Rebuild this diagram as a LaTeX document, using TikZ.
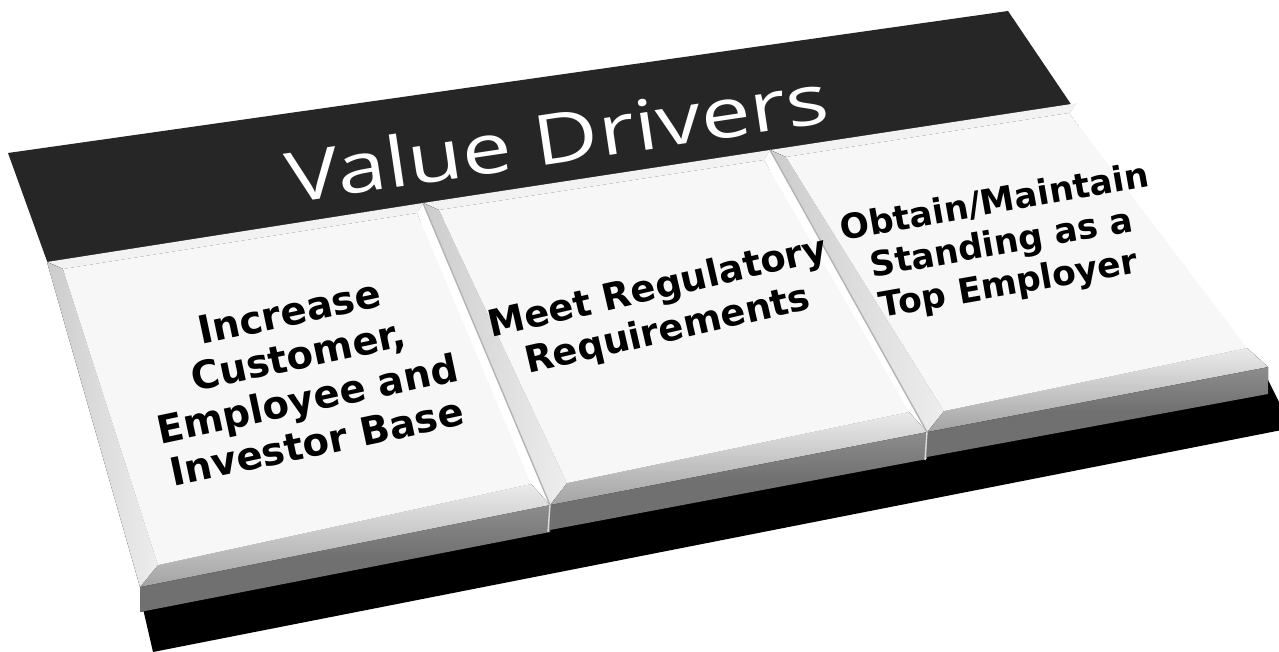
\documentclass[tikz,border=0pt]{standalone}
\usepackage{fontspec}
\usetikzlibrary{calc}
\newfontfamily\titlefont{Open Sans}
\newfontfamily\tilefont{DejaVu Sans}
\definecolor{bandgray}{HTML}{262626}
\definecolor{facegray}{HTML}{F7F7F7}
\definecolor{frontgray}{HTML}{707070}
\definecolor{creasegray}{HTML}{B4B4B4}

\tikzset{
  band/.style={fill=bandgray},
  base/.style={fill=black},
  topface/.style={fill=facegray},
  frontface/.style={top color=frontgray!80!white, bottom color=frontgray, middle color=frontgray},
  topbevel/.style={fill=white!95!black},
  rightbevel/.style={fill=white},
  bottombevel/.style={top color=white!92!black, bottom color=white!64!black},
  leftbevel/.style={left color=white!80!black, right color=white!93!black},
  titletext/.style={font=\titlefont\fontsize{22}{26}\selectfont, text=white},
  tiletext/.style 2 args={font=\tilefont\bfseries\fontsize{#1}{#2}\selectfont, align=center, text=black},
}

% one tile from its named corners: o = outer edge, i = inner face
\newcommand{\drawtile}[1]{%
  \fill[frontface] (#1-obl) -- (#1-obr) -- ($(#1-obr)+(0,27)$) -- ($(#1-obl)+(0,25)$) -- cycle;
  \fill[topbevel] (#1-otl) -- (#1-otr) -- (#1-itr) -- (#1-itl) -- cycle;
  \fill[rightbevel] (#1-otr) -- (#1-obr) -- (#1-ibr) -- (#1-itr) -- cycle;
  \fill[bottombevel] (#1-obr) -- (#1-obl) -- (#1-ibl) -- (#1-ibr) -- cycle;
  \fill[leftbevel] (#1-obl) -- (#1-otl) -- (#1-itl) -- (#1-ibl) -- cycle;
  \fill[topface] (#1-itl) -- (#1-itr) -- (#1-ibr) -- (#1-ibl) -- cycle;
}

\begin{document}
\begin{tikzpicture}[x=0.01cm, y=-0.01cm]
\useasboundingbox (0,0) rectangle (1279,652);
\clip (0,0) rectangle (1279,652);

% dark header plate and black base
\fill[band] (8,153) -- (1008,11) -- (1085,125) -- (52,275) -- cycle;
\fill[base] (141,600) -- (1268,380) -- (1292,428) -- (153,652) -- cycle;

% tile corners
\coordinate (ta-otl) at (47,262);   \coordinate (ta-otr) at (423,203);
\coordinate (ta-obr) at (550,505);  \coordinate (ta-obl) at (140,587);
\coordinate (ta-itl) at (63,269);   \coordinate (ta-itr) at (417,213);
\coordinate (ta-ibr) at (531,484);  \coordinate (ta-ibl) at (158,565);

\coordinate (tb-otl) at (423,203);  \coordinate (tb-otr) at (770,150);
\coordinate (tb-obr) at (927,432);  \coordinate (tb-obl) at (550,505);
\coordinate (tb-itl) at (439,210);  \coordinate (tb-itr) at (764,160);
\coordinate (tb-ibr) at (909,412);  \coordinate (tb-ibl) at (567,483);

\coordinate (tc-otl) at (770,150);  \coordinate (tc-otr) at (1078,103);
\coordinate (tc-obr) at (1268,367); \coordinate (tc-obl) at (927,432);
\coordinate (tc-itl) at (786,157);  \coordinate (tc-itr) at (1069,113);
\coordinate (tc-ibr) at (1247,348); \coordinate (tc-ibl) at (944,411);

\drawtile{ta}
\drawtile{tb}
\drawtile{tc}

% creases between tiles
\draw[creasegray, thin] (ta-otr) -- (ta-obr);
\draw[creasegray, thin] (tb-otr) -- (tb-obr);
\draw[white!85!black, thin] (ta-obr) -- ($(ta-obr)+(-2,27)$);
\draw[white!85!black, thin] (tb-obr) -- ($(tb-obr)+(-2,28)$);

% labels
\node[titletext, rotate=8.5, xscale=1.15, yscale=0.9] (title) at (557,137) {Value Drivers};
\node[tiletext={11}{12.6}, rotate=12] (growth) at (303,377) {Increase\\Customer,\\Employee and\\Investor Base};
\node[tiletext={10.5}{12.4}, rotate=13] (comply) at (663,310) {Meet Regulatory\\Requirements};
\node[tiletext={9.8}{11.8}, rotate=10] (employer) at (1002,245) {Obtain/Maintain\\Standing as a\\Top Employer};

\end{tikzpicture}
\end{document}
